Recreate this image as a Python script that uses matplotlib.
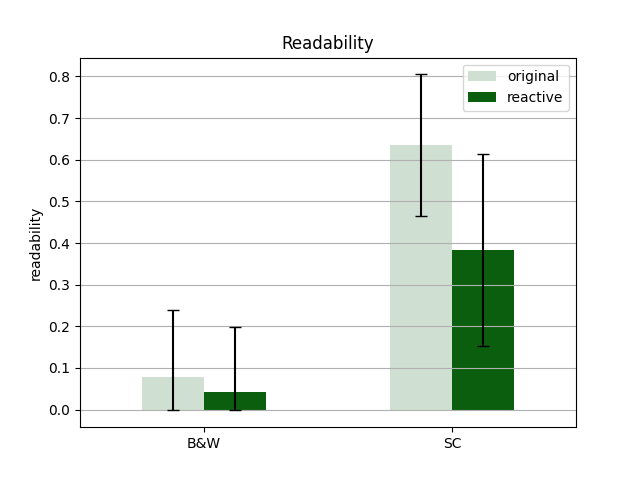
import numpy as np
import matplotlib.pyplot as plt

categories = ["B&W", "SC"]
original = [0.078, 0.635]
original_err_low = [0.080, 0.171]
original_err_high = [0.160, 0.170]
reactive = [0.041, 0.383]
reactive_err_low = [0.041, 0.231]
reactive_err_high = [0.158, 0.230]

x = np.arange(len(categories))
w = 0.25

fig, ax = plt.subplots(figsize=(6.4, 4.8), dpi=100)
ax.bar(x - w/2, original, w, color='#cfdfd1', label='original')
ax.bar(x + w/2, reactive, w, color='#0b5e0e', label='reactive')
ax.errorbar(x - w/2, original, yerr=[original_err_low, original_err_high],
            fmt='none', ecolor='black', capsize=4, elinewidth=1.5)
ax.errorbar(x + w/2, reactive, yerr=[reactive_err_low, reactive_err_high],
            fmt='none', ecolor='black', capsize=4, elinewidth=1.5)

ax.set_xticks(x)
ax.set_xticklabels(categories)
ax.set_xlim(-0.5, len(categories) - 0.5)
ax.yaxis.grid(True)
ax.set_ylabel("readability")
ax.set_title("Readability")
ax.legend(loc='upper right')
plt.savefig("out.png", dpi=100)
